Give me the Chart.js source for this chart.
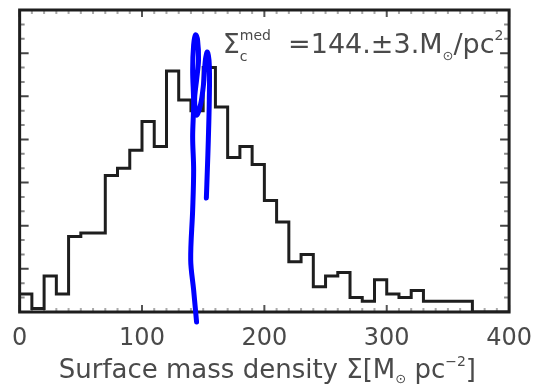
<!DOCTYPE html>
<html>
<head>
<meta charset="utf-8">
<script src="https://cdn.jsdelivr.net/npm/chart.js@4.4.1/dist/chart.umd.min.js"></script>
<style>
html,body{margin:0;padding:0;background:#fff;}
#wrap{width:544px;height:387px;}
</style>
</head>
<body>
<div id="wrap"><canvas id="hist" width="544" height="387"></canvas></div>
<script>
const FONT = '"DejaVu Sans", sans-serif';
const TEXT_COLOR = '#4a4a4a';

// histogram: left edge of each 10 M_sun/pc^2 bin and its count
const binStart = [0,10,20,30,40,50,60,70,80,90,100,110,120,130,140,150,160,170,180,190,
200,210,220,230,240,250,260,270,280,290,300,310,320,330,340,350,360,370,380,390];
const binWidth = 10;
const counts = [5,1,10,5,21,22,22,38,40,45,53,46,67,59,56,68,57,43,46,41,
31,25,14,16,7,10,11,4,3,9,5,4,6,3,3,3,3,0,0,0];

// hand-drawn blue marker near the median
const markX = [144.6,142.2,139.8,141.4,142.2,141.4,142.2,141.4,142.2,143.8,145.4,146.2,144.6,143.0,144.6,147.8,150.2,151.8,153.4,155.0,155.0,154.2,153.4,152.6];
const markY = [-2.8,6.1,14.5,28.4,39.5,48.7,58.1,67.3,74.3,77.1,75.7,70.1,64.5,59.0,54.8,57.6,63.1,70.1,72.3,68.7,59.0,47.8,39.5,31.7];

const xTickLabels = [0,100,200,300,400];

const histData = binStart.map((x,i)=>({x:x,y:counts[i]}));
histData.push({x:binStart[binStart.length-1]+binWidth,y:0});
const markData = markX.map((x,i)=>({x:x,y:markY[i]}));

function drawRich(ctx, parts, x, y, align){
let total = 0;
parts.forEach(p=>{
ctx.font = p.size + 'px ' + FONT;
p.w = ctx.measureText(p.t).width;
if(p.adv !== false) total += p.w;
});
let cx = align === 'center' ? x - total/2 : x;
ctx.textAlign = 'left';
ctx.textBaseline = 'alphabetic';
parts.forEach(p=>{
ctx.font = p.size + 'px ' + FONT;
ctx.fillText(p.t, cx, y + (p.dy || 0));
if(p.adv !== false) cx += p.w;
});
}

const framePlugin = {
id:'frame',
beforeDatasetsDraw(chart){
const ctx = chart.ctx;
const a = chart.chartArea;
const xs = chart.scales.x;
const ys = chart.scales.y;
ctx.save();
// inner tick marks
ctx.lineWidth = 2;
xs.ticks.forEach(t=>{
const px = xs.getPixelForValue(t.value);
const major = xTickLabels.includes(t.value);
ctx.strokeStyle = major ? '#555' : '#aaa';
const len = major ? 7 : 4;
ctx.beginPath();
ctx.moveTo(px,a.bottom); ctx.lineTo(px,a.bottom-len);
ctx.moveTo(px,a.top); ctx.lineTo(px,a.top+len);
ctx.stroke();
});
ys.ticks.forEach(t=>{
const py = ys.getPixelForValue(t.value);
const major = t.value % 12 === 0;
ctx.strokeStyle = major ? '#444' : '#888';
const len = major ? 9 : 5;
ctx.beginPath();
ctx.moveTo(a.left,py); ctx.lineTo(a.left+len,py);
ctx.moveTo(a.right,py); ctx.lineTo(a.right-len,py);
ctx.stroke();
});
// frame
ctx.strokeStyle = '#1e1e1e';
ctx.lineWidth = 3;
ctx.strokeRect(a.left,a.top,a.right-a.left,a.bottom-a.top);
ctx.restore();
},
afterDraw(chart){
const ctx = chart.ctx;
const a = chart.chartArea;
const xs = chart.scales.x;
const ys = chart.scales.y;
ctx.save();
ctx.fillStyle = TEXT_COLOR;
// axis title
drawRich(ctx,[
{t:'Surface mass density Σ[M',size:26},
{t:'⊙',size:13,dy:5},
{t:' pc',size:26},
{t:'−2',size:14,dy:-12},
{t:']',size:26}
],(a.left+a.right)/2+3,378,'center');
// median annotation
drawRich(ctx,[
{t:'Σ',size:27},
{t:'c',size:14,dy:8,adv:false},
{t:'med',size:14,dy:-13},
{t:'  =144.±3.M',size:27},
{t:'⊙',size:13,dy:7},
{t:'/pc',size:27},
{t:'2',size:14,dy:-13}
],xs.getPixelForValue(166),ys.getPixelForValue(72),'left');
ctx.restore();
}
};

new Chart(document.getElementById('hist'),{
type:'line',
data:{
datasets:[
{
data:histData,
stepped:true,
borderColor:'#1e1e1e',
borderWidth:3,
pointRadius:0,
fill:false,
order:2
},
{
data:markData,
borderColor:'#0000ff',
borderWidth:5,
tension:0.35,
pointRadius:0,
fill:false,
clip:false,
borderCapStyle:'round',
borderJoinStyle:'round',
order:1
}
]
},
options:{
responsive:false,
animation:false,
layout:{padding:{top:10,right:24,left:0,bottom:0}},
plugins:{legend:{display:false},tooltip:{enabled:false}},
scales:{
x:{
type:'linear',
min:0,
max:400,
grid:{display:false,drawTicks:false},
border:{display:false},
ticks:{
stepSize:10,
autoSkip:false,
maxRotation:0,
padding:12,
color:TEXT_COLOR,
font:{family:FONT,size:24},
callback:(v)=>xTickLabels.includes(v) ? String(v) : ''
},
afterFit(s){s.height = 75;}
},
y:{
type:'linear',
min:0,
max:84,
grid:{display:false,drawTicks:false},
border:{display:false},
ticks:{stepSize:4,display:false},
afterFit(s){s.width = 18;}
}
}
},
plugins:[framePlugin]
});
</script>
</body>
</html>
